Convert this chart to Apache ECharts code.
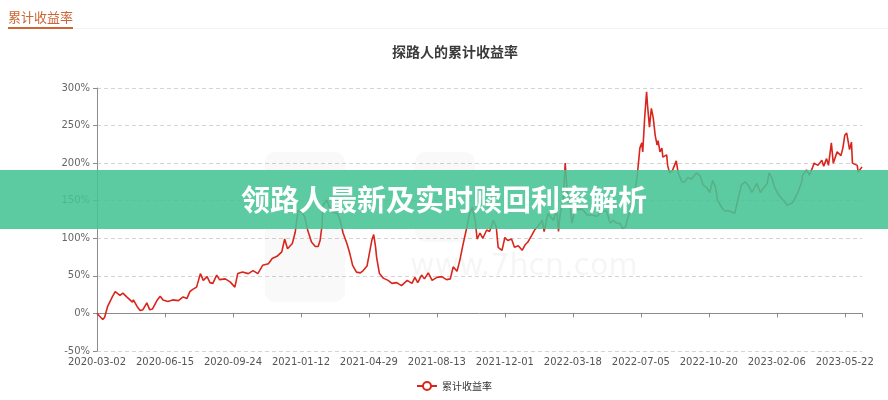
<!DOCTYPE html>
<html>
<head>
<meta charset="utf-8">
<script src="https://cdn.jsdelivr.net/npm/echarts@6/dist/echarts.min.js"></script>
<style>
html,body{margin:0;padding:0;background:#fff;}
#chart{width:888px;height:400px;}
</style>
</head>
<body>
<div id="chart"></div>
<script>
// Tick labels on the x axis (every 71 trading days)
const tickDates = ['2020-03-02','2020-06-15','2020-09-24','2021-01-12','2021-04-29','2021-08-13','2021-12-01','2022-03-18','2022-07-05','2022-10-20','2023-02-06','2023-05-22'];
const tickStep = 71;
const lastIndex = 799;

// Trading-day index of each sampled point
const dayIndex = [0,6,8,11,16,19,24,27,31,37,38,42,45,48,52,55,58,63,66,69,74,79,85,90,94,97,100,104,108,111,115,118,121,125,128,134,139,144,147,152,158,163,168,173,179,183,188,193,196,199,204,207,209,210,214,217,220,224,228,231,233,235,236,240,243,246,251,254,257,261,264,267,271,275,278,282,284,287,289,291,292,295,299,304,308,313,318,324,329,332,335,339,342,346,350,355,360,365,369,372,376,379,382,386,389,392,395,397,400,403,407,410,414,417,419,423,426,429,433,436,440,444,447,450,454,457,460,465,467,471,474,477,480,482,484,487,489,491,494,496,500,503,506,512,517,522,527,532,536,539,543,546,549,552,554,559,562,564,567,569,570,572,574,575,577,579,581,583,585,586,588,590,591,595,596,598,601,605,607,611,614,617,621,626,630,633,637,640,643,646,648,653,656,659,663,666,669,673,677,680,684,687,689,693,695,700,702,705,708,711,715,718,721,726,729,732,736,737,741,744,747,749,753,757,759,762,764,767,769,773,777,779,781,783,784,786,788,789,794,795,797,799];

// Cumulative return (%) at each sampled point
const cumReturn = [0,-8,-5,9,22,29,24,27,22,15,18,9,4,5,14,5,6,18,23,18,16,18,17,22,20,29,32,35,53,44,49,41,40,51,45,46,42,35,53,55,53,57,53,64,66,73,76,82,99,86,93,108,127,137,135,128,111,95,89,89,97,117,144,151,141,135,133,124,107,93,80,64,55,54,57,63,62,97,105,88,75,53,47,44,40,41,37,44,40,48,41,51,46,54,44,48,49,45,46,62,56,71,90,113,132,141,124,99,107,100,111,109,124,115,88,84,101,97,99,88,90,84,91,95,104,111,115,124,109,133,128,124,141,109,135,151,200,164,144,120,144,137,140,131,131,129,135,137,120,124,120,120,113,115,125,147,164,180,220,227,215,260,295,277,248,273,260,237,224,230,215,220,208,211,197,187,190,203,187,175,175,181,179,187,183,171,167,161,177,168,151,140,136,137,135,133,149,171,175,171,161,168,173,161,165,173,187,180,167,160,153,149,144,147,153,161,175,184,191,184,193,200,197,204,196,206,197,227,200,215,210,220,237,240,233,218,228,200,197,188,190,195];

const seriesName = '累计收益率';
const chartTitle = '探路人的累计收益率';
const headerText = '累计收益率';
const bannerText = '领路人最新及实时赎回利率解析';

const points = dayIndex.map((d, i) => [d, cumReturn[i]]);

const chart = echarts.init(document.getElementById('chart'), null, {renderer: 'canvas'});

const labelFmt = function (v) {
  const k = Math.round(v / tickStep);
  if (Math.abs(v - k * tickStep) < 0.01 && k < tickDates.length) return tickDates[k];
  return '';
};

chart.setOption({
  backgroundColor: '#fff',
  animation: false,
  title: {
    text: chartTitle,
    left: 387,
    top: 40,
    textStyle: {fontSize: 14, fontWeight: 'bold', color: '#3a3a3a', fontFamily: 'Noto Sans CJK SC'}
  },
  legend: {
    data: [seriesName],
    left: 411,
    top: 376,
    itemWidth: 20,
    itemHeight: 10,
    itemGap: 4,
    textStyle: {fontSize: 10, color: '#333', fontFamily: 'Noto Sans CJK SC'}
  },
  grid: {left: 97, right: 26, top: 88, bottom: 49, containLabel: false},
  xAxis: [
    {
      type: 'value',
      min: 0,
      max: lastIndex,
      interval: tickStep,
      axisLine: {show: false, onZero: false},
      axisTick: {show: false},
      splitLine: {show: false},
      axisLabel: {
        formatter: labelFmt,
        showMaxLabel: false,
        margin: 6,
        fontSize: 10,
        color: '#555',
        fontFamily: 'DejaVu Sans'
      }
    },
    {
      type: 'value',
      position: 'bottom',
      min: 0,
      max: lastIndex,
      interval: tickStep,
      axisLine: {show: true, onZero: true, lineStyle: {color: '#8c8c8c', width: 1}},
      axisTick: {show: true, length: 4, lineStyle: {color: '#8c8c8c'}},
      splitLine: {show: false},
      axisLabel: {show: false}
    }
  ],
  yAxis: {
    type: 'value',
    min: -50,
    max: 300,
    interval: 50,
    axisLine: {show: true, lineStyle: {color: '#8c8c8c', width: 1}},
    axisTick: {show: true, length: 4, lineStyle: {color: '#8c8c8c'}},
    splitLine: {show: true, lineStyle: {type: [4, 3], color: '#d4d4d4', width: 1}},
    axisLabel: {formatter: '{value}%', fontSize: 10, color: '#666', margin: 7, fontFamily: 'DejaVu Sans'}
  },
  series: [{
    name: seriesName,
    type: 'line',
    xAxisIndex: 0,
    data: points,
    showSymbol: false,
    symbol: 'emptyCircle',
    symbolSize: 8,
    lineStyle: {color: '#d9261c', width: 1.6},
    itemStyle: {color: '#d9261c'},
    z: 3
  }],
  graphic: [
    {type: 'text', left: 410, top: 252, z: 1, silent: true,
      style: {text: 'www.7hcn.com', font: '30px "DejaVu Sans"', fill: 'rgba(0,0,0,0.04)'}},
    {type: 'rect', z: 1, silent: true, shape: {x: 265, y: 152, width: 80, height: 150, r: 10}, style: {fill: 'rgba(0,0,0,0.022)'}},
    {type: 'rect', z: 1, silent: true, shape: {x: 415, y: 152, width: 60, height: 90, r: 10}, style: {fill: 'rgba(0,0,0,0.022)'}},
    {type: 'text', left: 8, top: 11, z: 10,
      style: {text: headerText, font: '13px "Noto Sans CJK SC"', fill: '#cc6434'}},
    {type: 'rect', z: 10, shape: {x: 74, y: 28, width: 814, height: 1}, style: {fill: '#f2f2f2'}},
    {type: 'rect', z: 10, shape: {x: 8, y: 27, width: 65, height: 2}, style: {fill: '#cc6434'}},
    {type: 'rect', z: 20, silent: true, shape: {x: 0, y: 170, width: 888, height: 59}, style: {fill: 'rgba(70,196,149,0.88)'}},
    {type: 'text', z: 21, silent: true, x: 444, y: 200,
      style: {text: bannerText, font: 'bold 29px "Noto Sans CJK SC"', fill: '#fff', align: 'center', verticalAlign: 'middle'}}
  ]
});
</script>
</body>
</html>
